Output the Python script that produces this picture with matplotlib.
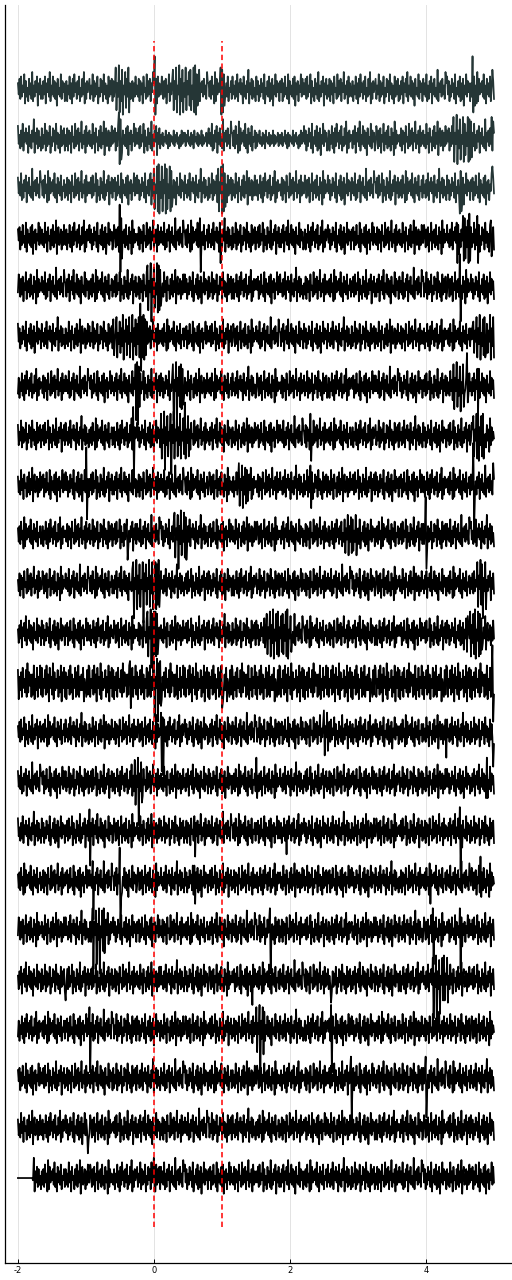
import numpy as np
import matplotlib
matplotlib.use("Agg")
import matplotlib.pyplot as plt

plt.rcParams['axes.unicode_minus'] = False

# Samples, one character per sample.
# lowercase: value = ord(c) - ord('m')  (m = 0, a = -12, z = +13)
# uppercase: large spikes (see BIG)
BIG = {'A': -19, 'B': -17, 'C': -15, 'D': -13, 'W': 13, 'X': 15, 'Y': 17, 'Z': 19}

N0 = "pkrisjoltgqjnhrkpiuhojqlsfpkri"
N1 = "qjoitkpgrlnhqjsipkuforjlqhpjsk"
N2 = "rkpjthoiqlsgpkrjnivhplqjrkoiup"
N3 = "jqhoksipgrjtlpiqkshnjrkugpiqlo"
N4 = "skoiqjthplrkpgsjoiqlvgpkriqjnh"
N5 = "oiqksgplrjuhoksjqipfrknjtiqlph"
N6 = "qlrhpjsknitgqkojrisfpkqholtjrk"
N7 = "kspiqjrgolthpkqisjnhrkpfuiqkol"
N8 = "riokthqjpksgnjrlqhtkpiogsjqkrh"
N9 = "pjqiskoguhrkplqjtiogrkpjshnlqi"
N10 = "skqhojrlpitgnkqjshpirfoktjqlph"
N11 = "ojrhqkpgslnitjqkrhpluiokqgsjpk"
Q0 = "okpjnlqkoipjolnkqjolpkniojqkpl"
Q1 = "pjolqknjpkoiqlnkpjoklqjoknlpjo"
W0 = "sfpjrgtkoisgvirlqgqhufojtgpkuh"
W1 = "tgokshuiqetkphvfrjoksgpiuerktg"
W2 = "rfpkshuiqfoktgrhugpjqjteokgshu"
BANK = [N0, N1, N2, N3, N4, N5, N6, N7, N8, N9, N10, N11, Q0, Q1, W0, W1, W2]
BANK_KEYS = "0123456789abcdefg"

# sequence of background stretches for each trace (top to bottom)
base_codes = [
    "05381b7294a60b3852a9", "48b160cd29dca357b162", "29b06a54813b7a2094a6",
    "613a7b2948053a6b1748", "72590b1a8364b905287a", "a4183b960725a481b396",
    "3b2650a1947b8362a015", "80493a7b5162b9384a07", "16a05b2973b4810a6392",
    "93b802a46175b3a90824", "b7295140a386b2a71590", "5a637b1048a29b5360a1",
    "efgfegefgegfefgfegfe", "0941b73a5286b03a9148", "26803b15a9740b6381a5",
    "4a05718b2963a4170b58", "9b62574a0b3186a4b927", "7143a6b9528b031a4760",
    "5800b14a7692b85a3410", "39628a170b5436a91b87", "60b5842a9173b0658294",
    "13a705b2849b61a3570a", "4917382a6b05948b2a16",
]

# bursts and spikes: (time in s, samples)
events = [
    [(-0.56, "wdpjxcqhvbokuerjwcpi"), (0.0, "pXbr"), (0.28, "vdqiwcokxbrhvcpjwdqkufvdoiwcxbtf"),
     (0.98, "wbvctf"), (4.68, "Xcsf"), (4.98, "v")],
    [(-0.52, "ybvd"), (4.4, "wcpkxbqivdokwctfpjwcvdue"), (4.97, "wh")],
    [(-0.05, "tfqjvdokwcxbpiwcqkxbvdoiwcue"), (0.95, "vcpkwbxcte"), (4.5, "bucg"), (4.98, "w")],
    [(-0.5, "XCvd"), (0.68, "vC"), (0.97, "tb"), (4.45, "tbsf"), (4.55, "wcvd"), (4.62, "ubxc"),
     (4.75, "wb"), (4.95, "ue")],
    [(-0.1, "wcpkxCqivdojxbwcue"), (4.5, "XC")],
    [(-0.6, "uekpvdojtfqiwcpkuerjvdokwcqiuesjvdtfpkwcue"), (-0.2, "XCvd"),
     (4.7, "tfpkvdqjwcoiuevd"), (4.9, "sfpkwcqivd")],
    [(-0.27, "wCxBvd"), (0.28, "wCpkxBqivdokwf"), (0.4, "wcue"), (4.4, "wcqkxdpivbojwd"),
     (4.6, "Xf"), (4.75, "ub")],
    [(-0.3, "WA"), (0.1, "wcpjxCqivdokwBrjxcpkvdqiwcokueXcpjvd"), (2.3, "wb"),
     (4.7, "vdpkwcxbqivdwc")],
    [(-1.0, "YC"), (1.25, "wdpkvcqiuetf"), (2.3, "vc"), (4.7, "ZA"), (4.99, "w")],
    [(-0.4, "tb"), (0.3, "wcpkvCqixdojwcub"), (2.8, "tepkvdqjuetfojvd"), (4.0, "YC")],
    [(-0.3, "wCpkxbqivcokwBrjvdpkxcqiwbojvdqkxc"), (0.02, "wbvd"), (4.75, "wcqkxdvCpjwb")],
    [(-0.1, "wcpkxCvBwd"), (0.02, "wcvd"), (1.66, "vdpkwcqixbojvdwcpkuevdqjwcxbokue"),
     (4.6, "eupkwcqivdxbojwcvdtf")],
    [(-0.35, "wb"), (0.0, "wCpkxBvdwc"), (1.0, "be"), (4.98, "YB")],
    [(0.1, "vBtAsj"), (2.5, "wcpkve"), (4.3, "b"), (4.99, "C")],
    [(-0.28, "wcpkxAqivd"), (1.5, "xf"), (4.9, "xf")],
    [(-0.95, "wC"), (0.6, "tb"), (1.95, "c"), (4.5, "xB")],
    [(-0.9, "vB"), (-0.5, "XAf"), (0.6, "tc"), (4.06, "c"), (4.8, "xf")],
    [(-0.9, "wBqkvCpiwAojvdwc"), (1.7, "wA"), (4.1, "wC"), (4.5, "wB")],
    [(-1.3, "d"), (1.45, "b"), (2.6, "c"), (4.1, "wBpjxAqivCokwdxdpkwc")],
    [(-0.95, "wA"), (1.5, "wcpkxAqivd"), (1.6, "wb"), (2.6, "xA")],
    [(2.9, "wA"), (4.0, "wB")],
    [(-0.97, "b")],
    [(-2.0, "mmmmmmmmmmmmmmmmmmm"), (0.0, "vg")],
]

trace_colors = ['#253636'] * 3 + ['#000000'] * 20
t_start, t_end = -2.0, 5.0
event_lines = [0.0, 1.0]
xticks = [-2, 0, 2, 4]
xticklabels = ['-2', '0', '2', '4']
spacing = 22.0


def decode(s):
    return np.array([BIG[c] if c in BIG else ord(c) - ord('m') for c in s], dtype=float)


def build(code, evs):
    v = decode("".join(BANK[BANK_KEYS.index(c)] for c in code))
    n = len(v)
    for t0, s in evs:
        i0 = int(round((t0 - t_start) / (t_end - t_start) * (n - 1)))
        seg = decode(s)[: n - i0]
        v[i0:i0 + len(seg)] = seg
    return v


fig = plt.figure(figsize=(5.12, 12.8), dpi=100)
ax = fig.add_axes([5 / 512, 17 / 1280, 506 / 512, 1258 / 1280])

n_tr = len(base_codes)
for k in range(n_tr):
    v = build(base_codes[k], events[k])
    t = np.linspace(t_start, t_end, len(v))
    off = (n_tr - 1 - k) * spacing
    ax.plot(t, v + off, color=trace_colors[k], lw=1.25, zorder=2)

for e in event_lines:
    ax.plot([e, e], [-spacing, n_tr * spacing], color='#ff0000', lw=1.1,
            linestyle=(0, (3.5, 2.2)), zorder=3)

ax.set_xlim(-2.19, 5.25)
ax.set_ylim(-37.8, 521.8)
ax.set_xticks(xticks)
ax.set_xticklabels(xticklabels)
ax.set_yticks([])
ax.grid(axis='x', color='#e3e3e3', lw=0.7)
ax.set_axisbelow(True)
for sp in ['top', 'right']:
    ax.spines[sp].set_visible(False)
for sp in ['left', 'bottom']:
    ax.spines[sp].set_linewidth(0.9)
ax.tick_params(axis='x', direction='in', length=3, width=0.7, labelsize=6, pad=2.5)

fig.savefig('out.png', dpi=100)
